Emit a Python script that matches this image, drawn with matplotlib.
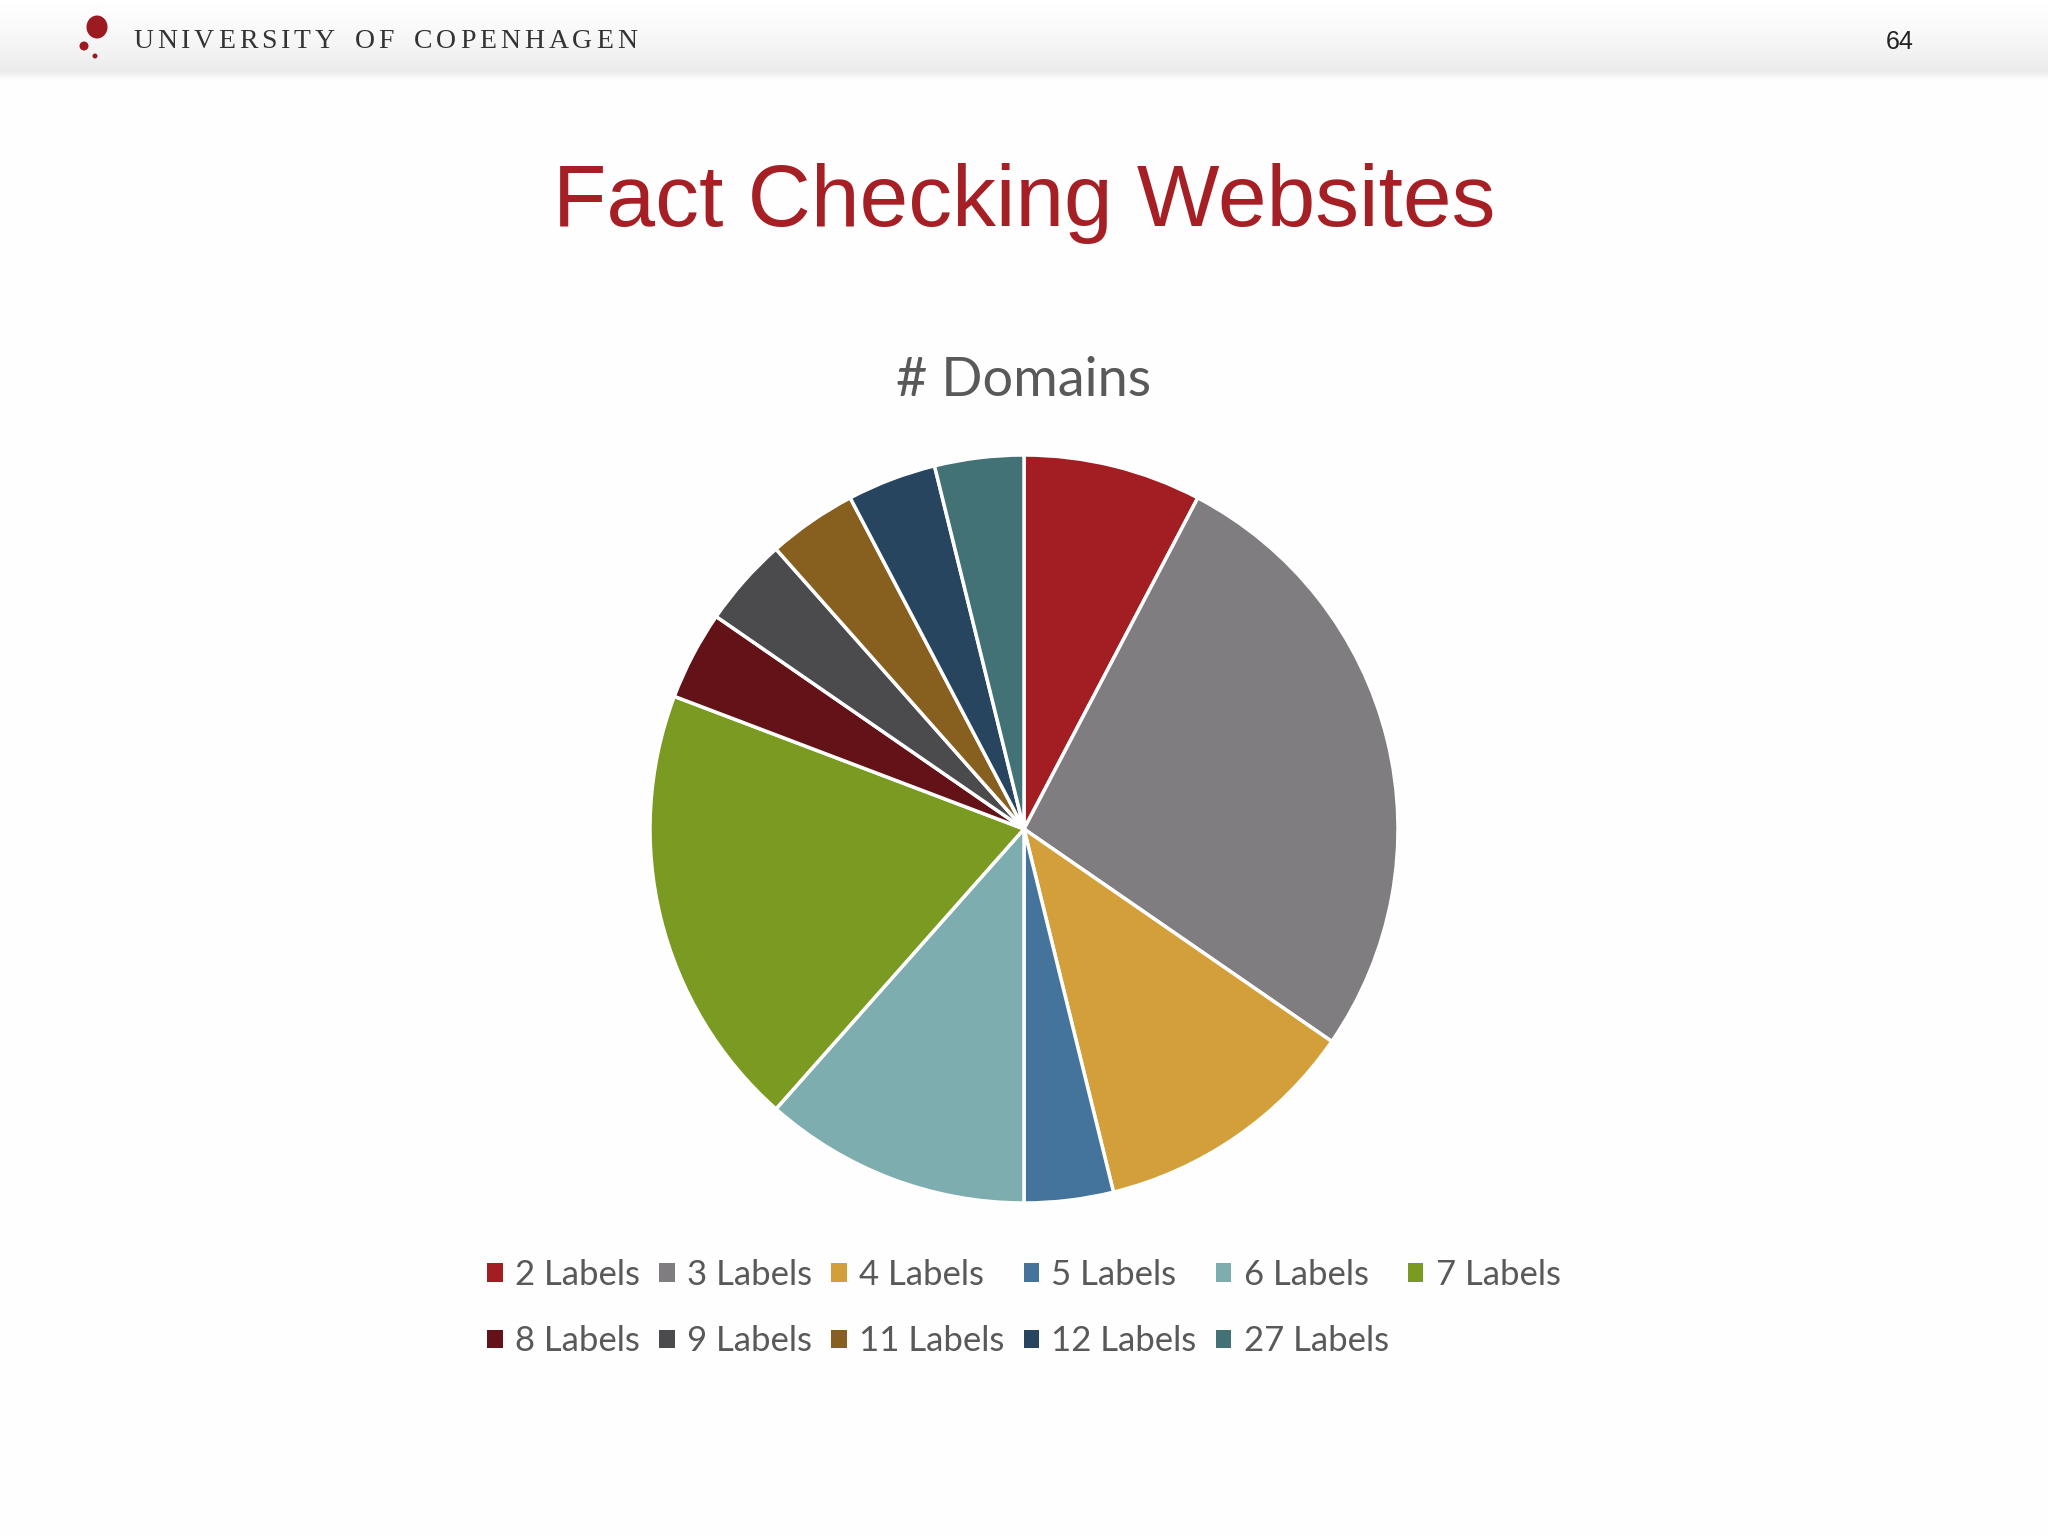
import matplotlib
matplotlib.use("Agg")
import matplotlib.pyplot as plt
from matplotlib.patches import Ellipse, Patch
import numpy as np

# data
labels = ["2 Labels", "3 Labels", "4 Labels", "5 Labels", "6 Labels", "7 Labels",
          "8 Labels", "9 Labels", "11 Labels", "12 Labels", "27 Labels"]
domains = [2, 7, 3, 1, 3, 5, 1, 1, 1, 1, 1]
colors = ["#a31e22", "#7f7d80", "#d29f3b", "#44739b", "#7eadb0", "#7a9a22",
          "#631218", "#4b4a4d", "#875f1f", "#284560", "#427176"]

W, H = 2048, 1536
fig = plt.figure(figsize=(W / 100, H / 100), dpi=100, facecolor="#fefefe")

# header band with soft gradient
HB = 80
hdr = fig.add_axes([0, 1 - HB / H, 1, HB / H])
t = np.linspace(0, 1, HB)
shade = np.where(t < 0.9, 1.0 - 0.075 * (t / 0.9) ** 1.6, 0.925 + 0.07 * (t - 0.9) / 0.1)
img = np.clip(np.stack([shade, shade * 0.997, shade], axis=-1)[:, None, :].repeat(2, axis=1), 0, 1)
hdr.imshow(img, extent=[0, W, HB, 0], aspect="auto", interpolation="bilinear")
hdr.set_xlim(0, W)
hdr.set_ylim(HB, 0)
hdr.axis("off")

# logo dots
for (cx, cy, rw, rh) in [(97, 27, 21, 23), (84, 46, 9, 9), (95, 56, 5, 5)]:
    hdr.add_patch(Ellipse((cx, cy), rw, rh, color="#9b1b20", lw=0))

# letter-spaced university name
name = "UNIVERSITY OF COPENHAGEN"
r = fig.canvas.get_renderer()
widths = []
for ch in name:
    if ch == " ":
        widths.append(12)
        continue
    tmp = hdr.text(0, 0, ch, fontsize=20, family="Liberation Serif")
    widths.append(tmp.get_window_extent(r).width)
    tmp.remove()
x0, x1 = 133, 637
gap = (x1 - x0 - sum(widths)) / (len(name) - 1)
x = x0
for ch, w in zip(name, widths):
    if ch != " ":
        hdr.text(x, 41, ch, fontsize=20, family="Liberation Serif", color="#333335",
                 ha="left", va="center")
    x += w + gap

hdr.text(1900, 42, "64", fontsize=18, family="Liberation Sans", color="#222222",
         ha="center", va="center")

# titles
fig.text(0.5, 1 - 226 / H, "Fact Checking Websites", fontsize=63, color="#a51f24",
         family="Liberation Sans", ha="center", va="baseline")
fig.text(0.5, 1 - 396 / H, "# Domains", fontsize=39, color="#595959",
         family="Lato", ha="center", va="baseline")

# pie
R = 374
cx, cy = 1024, 829
ax = fig.add_axes([(cx - R) / W, (H - cy - R) / H, 2 * R / W, 2 * R / H])
wedges, _ = ax.pie(domains, colors=colors, startangle=90, counterclock=False,
                   wedgeprops=dict(edgecolor="white", linewidth=2.5))
ax.set_xlim(-1, 1)
ax.set_ylim(-1, 1)
ax.set_aspect("equal")
ax.axis("off")

# legend, row-wise order laid out in 6 columns
order = [0, 6, 1, 7, 2, 8, 3, 9, 4, 10, 5]
handles = [Patch(facecolor=colors[i], edgecolor="none") for i in order]
leg = fig.legend(handles, [labels[i] for i in order], ncol=6, loc="center",
                 bbox_to_anchor=(0.5, 1 - 1308 / H), frameon=False,
                 prop=dict(family="Lato", size=25), labelcolor="#595959",
                 handlelength=0.45, handleheight=0.45, handletextpad=0.35,
                 columnspacing=0.55, labelspacing=1.0, borderpad=0)

fig.savefig("out.png", dpi=100, facecolor=fig.get_facecolor())
